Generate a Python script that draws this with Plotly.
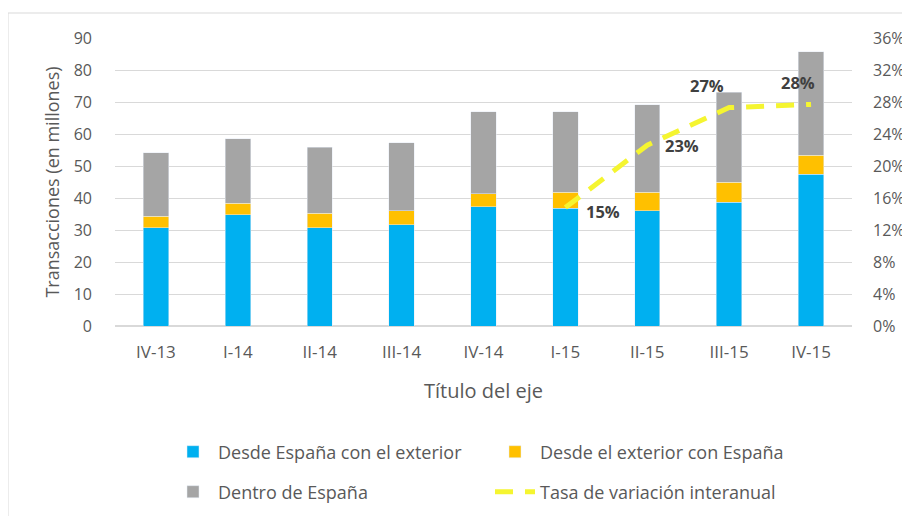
import plotly.graph_objects as go

categories = ["IV-13", "I-14", "II-14", "III-14", "IV-14", "I-15", "II-15", "III-15", "IV-15"]
desde_espana = [30.7, 34.7, 30.7, 31.6, 37.3, 36.8, 36.0, 38.7, 47.4]
desde_exterior = [3.6, 3.6, 4.5, 4.4, 4.0, 5.0, 5.8, 6.2, 6.0]
dentro_espana = [19.8, 20.2, 20.6, 21.2, 25.6, 25.1, 27.4, 28.1, 32.3]
tasa = [None, None, None, None, None, 0.148, 0.226, 0.273, 0.277]
tasa_labels = ["15%", "23%", "27%", "28%"]
label_shift = [(38, -4), (35, 0), (-22, 22), (-13, 22)]   # label offsets in px

FONT = "Open Sans"
TXT = "#595959"

# figure placed inside the page's default 8px body margin
W, H = 902, 508
L, R, T, B = 107, 58, 30, 190
PW, PH = W - L - R, H - T - B


def py(page_y):
    return ((H - B) - (page_y - 8)) / PH


def px(page_x):
    return ((page_x - 8) - L) / PW


fig = go.Figure()
fig.add_bar(x=categories, y=desde_espana, name="Desde España con el exterior",
            marker_color="#00B0F0", width=0.31, legend="legend")
fig.add_bar(x=categories, y=desde_exterior, name="Desde el exterior con España",
            marker_color="#FFC000", width=0.31, legend="legend")
fig.add_bar(x=categories, y=dentro_espana, name="Dentro de España",
            marker_color="#A5A5A5", width=0.31, legend="legend2")
fig.add_scatter(x=categories, y=tasa, name="Tasa de variación interanual",
                mode="lines", yaxis="y2", legend="legend2",
                line=dict(color="#F5F530", width=5, dash="18px,12px"))

pts = [(c, v) for c, v in zip(categories, tasa) if v is not None]
for (c, v), lab, (dx, dy) in zip(pts, tasa_labels, label_shift):
    fig.add_annotation(x=c, y=v, xref="x", yref="y2", text=lab, showarrow=False,
                       xshift=dx, yshift=dy,
                       font=dict(family=FONT, size=16.5, color="#404040", weight="bold"))

leg_common = dict(orientation="h", xanchor="left", yanchor="middle",
                  entrywidth=267, font=dict(size=18, color=TXT), traceorder="normal",
                  itemwidth=40, bgcolor="rgba(0,0,0,0)")

fig.update_layout(
    width=W, height=H,
    barmode="stack",
    paper_bgcolor="white", plot_bgcolor="white",
    margin=dict(l=L, r=R, t=T, b=B, autoexpand=False),
    font=dict(family=FONT, size=16, color=TXT),
    xaxis=dict(range=[-0.5, 8.5], showgrid=False, showline=False, ticks="",
               ticklabelstandoff=14,
               tickfont=dict(size=17, color=TXT),
               title=dict(text="Título del eje", font=dict(size=20, color=TXT), standoff=21)),
    yaxis=dict(range=[0, 90], dtick=10, showgrid=True, gridcolor="#D9D9D9", gridwidth=1,
               zeroline=True, zerolinecolor="#D9D9D9", ticks="",
               ticklabelstandoff=22,
               tickfont=dict(size=16, color=TXT),
               title=dict(text="Transacciones (en millones)", font=dict(size=18, color=TXT), standoff=9)),
    yaxis2=dict(range=[0, 0.36], dtick=0.04, tickformat=".0%", overlaying="y", side="right",
                showgrid=False, zeroline=False, ticks="", ticklabelstandoff=20,
                tickfont=dict(size=16, color=TXT)),
    legend=dict(x=px(168), y=py(452), **leg_common),
    legend2=dict(x=px(168), y=py(492), **leg_common),
    showlegend=True,
    shapes=[dict(type="rect", xref="paper", yref="paper",
                 x0=px(8), x1=px(960), y0=py(560), y1=py(13),
                 line=dict(color="#D9D9D9", width=1), fillcolor="rgba(0,0,0,0)", layer="below")],
)

fig.write_html("out.html")
